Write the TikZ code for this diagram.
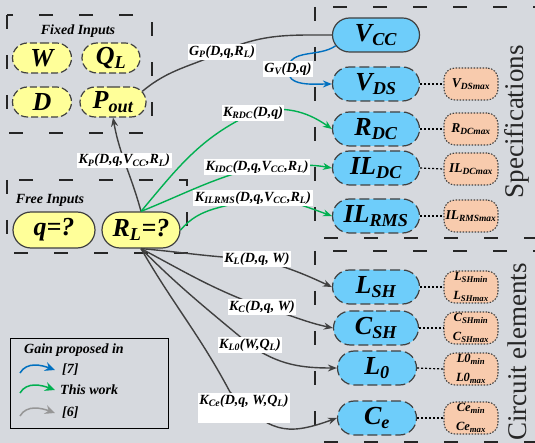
\documentclass[tikz,border=0pt]{standalone}
\usepackage{fontspec}
\setmainfont{Liberation Serif}
\usetikzlibrary{shapes.misc,arrows.meta}
\definecolor{bgc}{RGB}{214,217,222}
\definecolor{yel}{RGB}{255,255,153}
\definecolor{sky}{RGB}{110,205,250}
\definecolor{peach}{RGB}{248,203,173}
\definecolor{dg}{RGB}{64,64,64}
\definecolor{bl}{RGB}{0,112,192}
\definecolor{gr}{RGB}{0,176,80}
\definecolor{lg}{RGB}{150,150,150}
\newcommand\dn[1]{\textsubscript{#1}}
\newcommand\bigf{\fontsize{26}{28}\selectfont\bfseries\itshape}
\newcommand\lblf{\fontsize{14}{16}\selectfont\bfseries\itshape}
\newcommand\smallf{\fontsize{12.5}{19}\selectfont\bfseries\itshape}
\newcommand\midf{\fontsize{13.5}{15}\selectfont\bfseries\itshape}
\newcommand\sidef{\fontsize{27}{30}\selectfont}
\begin{document}
\begin{tikzpicture}[x=1pt,y=1pt,
  region/.style={draw=black!85, line width=1.5pt, dash pattern=on 14pt off 26pt},
  yfix/.style={rounded rectangle, draw=dg, fill=yel, line width=1.2pt, dash pattern=on 7pt off 3pt, minimum height=30pt, inner sep=0pt, font=\bigf},
  yfree/.style={rounded rectangle, draw=dg, fill=yel, line width=1.2pt, minimum height=36pt, inner sep=0pt, font=\bigf},
  bnode/.style={rounded rectangle, draw=dg, fill=sky, line width=1.2pt, dash pattern=on 10pt off 4pt, minimum width=87pt, minimum height=34pt, inner sep=0pt, font=\bigf},
  onode/.style={draw=dg, fill=peach, rounded corners=11pt, line width=1.1pt, dash pattern=on 1.5pt off 1.5pt, minimum width=54pt, minimum height=32pt, inner sep=0pt, align=center, font=\smallf},
  lbl/.style={fill=white, inner sep=1.5pt, font=\lblf},
  plain/.style={inner sep=0pt, font=\lblf},
  dgline/.style={draw=dg, line width=1.4pt},
  blline/.style={draw=bl, line width=1.4pt},
  grline/.style={draw=gr, line width=1.4pt},
  arrowed/.style={-{Stealth[length=9pt,width=7pt]}},
  legarrow/.style={line width=1.5pt, -{Stealth[length=10pt,width=9pt]}},
  dotline/.style={draw=black, line width=1.2pt, dash pattern=on 2pt off 2pt}
]
\path[use as bounding box, fill=bgc] (0,0) rectangle (535,-443);
\clip (0,0) rectangle (535,-443);

% regions
\draw[region] (7,-15) rectangle (152,-133);
\draw[region] (7,-180) rectangle (187,-253);
\draw[region] (315,-7) rectangle (560,-238);
\draw[region] (315,-251) rectangle (560,-442);

\node[plain] (fixlbl) at (78,-31) {Fixed Inputs};
\node[plain] (freelbl) at (50,-200) {Free Inputs};
\node[rotate=90, font=\sidef, text=black!85] (spec) at (517,-122) {Specifications};
\node[rotate=90, font=\sidef, text=black!85] (circ) at (517,-352) {Circuit elements};

% inputs
\node[yfix, minimum width=59pt] (W) at (42,-58) {W};
\node[yfix, minimum width=58pt] (QL) at (111,-58) {Q\dn{L}};
\node[yfix, minimum width=59pt] (D) at (42,-102) {D};
\node[yfix, minimum width=66pt] (Pout) at (113,-102) {P\dn{out}};
\node[yfree, minimum width=82pt] (q) at (54,-230) {q=?};
\node[yfree, minimum width=78pt] (RL) at (141,-230) {R\dn{L}=?};

% blue nodes
\node[bnode, solid] (VCC) at (376,-35) {V\dn{CC}};
\node[bnode] (VDS) at (376,-84) {V\dn{DS}};
\node[bnode] (RDC) at (376,-129) {R\dn{DC}};
\node[bnode] (ILDC) at (376,-168) {IL\dn{DC}};
\node[bnode] (ILRMS) at (376,-216) {IL\dn{RMS}};
\node[bnode] (LSH) at (376,-287) {L\dn{SH}};
\node[bnode, minimum width=85pt] (CSH) at (376,-328) {C\dn{SH}};
\node[bnode, minimum width=79pt] (L0) at (377,-368) {L\dn{0}};
\node[bnode, minimum width=79pt] (Ce) at (377,-418) {C\dn{e}};

% orange nodes
\node[onode, font=\midf] (VDSm) at (471,-84) {V\dn{DSmax}};
\node[onode, font=\midf] (RDCm) at (471,-129) {R\dn{DCmax}};
\node[onode, font=\midf] (ILDCm) at (471,-169) {IL\dn{DCmax}};
\node[onode, font=\midf] (ILRMSm) at (471,-216) {IL\dn{RMSmax}};
\node[onode] (LSHm) at (471,-287) {L\dn{SHmin}\\L\dn{SHmax}};
\node[onode] (CSHm) at (471,-328) {C\dn{SHmin}\\C\dn{SHmax}};
\node[onode] (L0m) at (471,-369) {L0\dn{min}\\L0\dn{max}};
\node[onode] (Cem) at (471,-418) {Ce\dn{min}\\Ce\dn{max}};

\foreach \a/\b in {VDS/VDSm,RDC/RDCm,ILDC/ILDCm,ILRMS/ILRMSm,LSH/LSHm,CSH/CSHm,L0/L0m,Ce/Cem}
  \draw[dotline] (\a.east) -- (\b.west);

% label coordinates
\coordinate (pGP) at (222,-52);
\coordinate (pGV) at (288,-69);
\coordinate (pRDC) at (253,-113);
\coordinate (pIDC) at (257,-167);
\coordinate (pILRMS) at (253,-198);
\coordinate (pKL) at (257,-259);
\coordinate (pKC) at (262,-307);
\coordinate (pKL0) at (250,-345);
\coordinate (pKCe) at (230,-392);

% edges
\draw[dgline] (Pout.20) to[out=40,in=205] (pGP) node[lbl]{G\dn{P}(D,q,R\dn{L})} to[out=25,in=180] (VCC.west);
\draw[blline, arrowed] (VCC.195) to[out=215,in=85] (pGV) node[lbl]{G\dn{V}(D,q)} to[out=265,in=180] (VDS.west);
\draw[dgline, arrowed] (RL.north) to[out=105,in=-80] node[lbl,pos=0.55]{K\dn{P}(D,q,V\dn{CC},R\dn{L})} (Pout.south);
\draw[grline, arrowed] (RL.north) to[out=50,in=205] (pRDC) node[lbl]{K\dn{RDC}(D,q)} to[out=15,in=145] (RDC.west);
\draw[grline, arrowed] (RL.north) to[out=22,in=195] (pIDC) node[lbl]{K\dn{IDC}(D,q,V\dn{CC},R\dn{L})} to[out=0,in=170] (ILDC.west);
\draw[grline, arrowed] (RL.east) to[out=50,in=200] (pILRMS) node[lbl]{K\dn{ILRMS}(D,q,V\dn{CC},R\dn{L})} to[out=0,in=160] (ILRMS.west);
\draw[dgline, arrowed] (RL.south) to[out=-5,in=178] (pKL) node[lbl]{K\dn{L}(D,q, W)} to[out=-15,in=155] (LSH.west);
\draw[dgline, arrowed] (RL.south) to[out=-28,in=160] (pKC) node[lbl]{K\dn{C}(D,q, W)} to[out=-15,in=168] (CSH.west);
\draw[dgline, arrowed] (RL.south) to[out=-45,in=140] (pKL0) node[lbl]{K\dn{L0}(W,Q\dn{L})} to[out=-35,in=180] (L0.west);
\draw[dgline, arrowed] (RL.south) to[out=-60,in=118] (pKCe) node[lbl, anchor=north, xshift=14pt, text height=10pt, text depth=17pt]{K\dn{Ce}(D,q, W,Q\dn{L})} to[out=-45,in=200,looseness=1.3] (Ce.west);

% legend
\node[draw=black, line width=1pt, minimum width=158pt, minimum height=90pt, inner sep=0pt] (legend) at (89,-383) {};
\node[plain, anchor=west] (leg0) at (24,-350) {Gain proposed in};
\node[plain, anchor=west] (leg1) at (62,-370) {[7]};
\node[plain, anchor=west] (leg2) at (60,-390) {This work};
\node[plain, anchor=west] (leg3) at (62,-413) {[6]};
\coordinate (a1) at (20,-373); \coordinate (b1) at (55,-370);
\coordinate (a2) at (20,-393); \coordinate (b2) at (55,-390);
\coordinate (a3) at (20,-416); \coordinate (b3) at (55,-413);
\draw[legarrow, draw=bl] (a1) to[out=60,in=160] (b1);
\draw[legarrow, draw=gr] (a2) to[out=60,in=160] (b2);
\draw[legarrow, draw=lg] (a3) to[out=60,in=160] (b3);
\end{tikzpicture}
\end{document}
